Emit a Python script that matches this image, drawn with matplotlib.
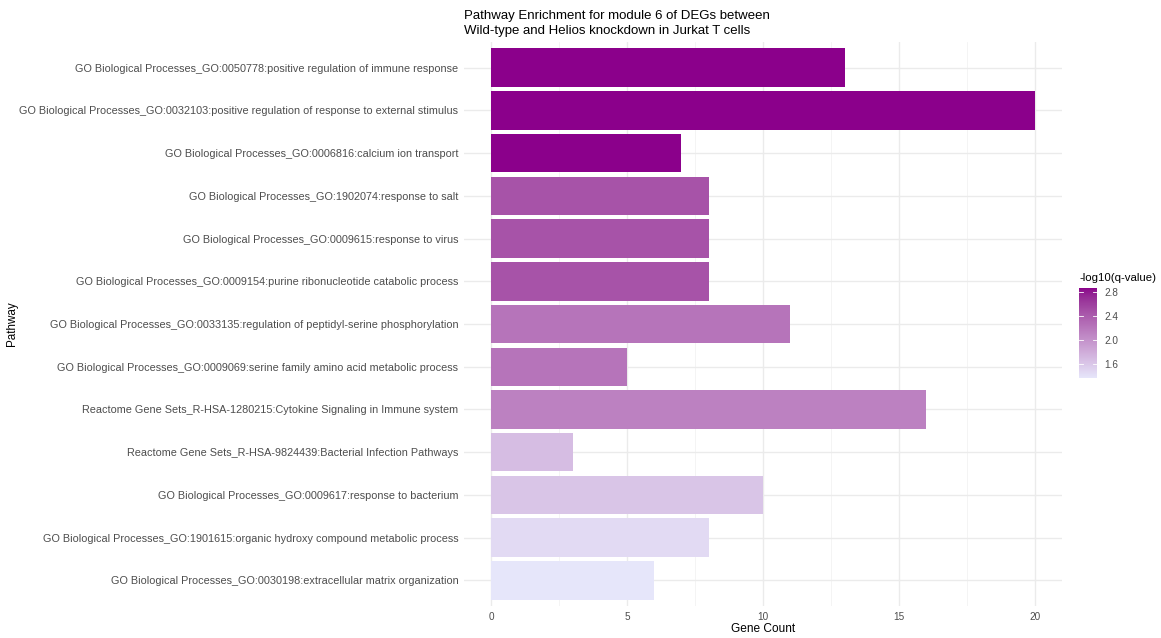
import numpy as np
import matplotlib
matplotlib.use("Agg")
import matplotlib.pyplot as plt
from matplotlib.colors import ListedColormap, Normalize, to_rgb

plt.rcParams["font.family"] = ["Liberation Sans", "DejaVu Sans"]

# pathways listed top to bottom as they appear in the chart
pathways = [
    "GO Biological Processes_GO:0050778:positive regulation of immune response",
    "GO Biological Processes_GO:0032103:positive regulation of response to external stimulus",
    "GO Biological Processes_GO:0006816:calcium ion transport",
    "GO Biological Processes_GO:1902074:response to salt",
    "GO Biological Processes_GO:0009615:response to virus",
    "GO Biological Processes_GO:0009154:purine ribonucleotide catabolic process",
    "GO Biological Processes_GO:0033135:regulation of peptidyl-serine phosphorylation",
    "GO Biological Processes_GO:0009069:serine family amino acid metabolic process",
    "Reactome Gene Sets_R-HSA-1280215:Cytokine Signaling in Immune system",
    "Reactome Gene Sets_R-HSA-9824439:Bacterial Infection Pathways",
    "GO Biological Processes_GO:0009617:response to bacterium",
    "GO Biological Processes_GO:1901615:organic hydroxy compound metabolic process",
    "GO Biological Processes_GO:0030198:extracellular matrix organization",
]
gene_count = [13, 20, 7, 8, 8, 8, 11, 5, 16, 3, 10, 8, 6]
neg_log_q = [2.87, 2.87, 2.87, 2.47, 2.47, 2.47, 2.22, 2.22, 2.13, 1.68, 1.62, 1.46, 1.37]


# lavender -> darkmagenta ramp, interpolated in CIE Lab
def srgb_to_lab(c):
    c = np.asarray(c, float)
    lin = np.where(c <= 0.04045, c / 12.92, ((c + 0.055) / 1.055) ** 2.4)
    m = np.array([[0.4124, 0.3576, 0.1805],
                  [0.2126, 0.7152, 0.0722],
                  [0.0193, 0.1192, 0.9505]])
    xyz = m @ lin / np.array([0.95047, 1.0, 1.08883])
    f = np.where(xyz > 0.008856, np.cbrt(xyz), 7.787 * xyz + 16 / 116)
    return np.array([116 * f[1] - 16, 500 * (f[0] - f[1]), 200 * (f[1] - f[2])])


def lab_to_srgb(lab):
    L, a, b = lab
    fy = (L + 16) / 116
    fx = fy + a / 500
    fz = fy - b / 200
    f = np.array([fx, fy, fz])
    xyz = np.where(f ** 3 > 0.008856, f ** 3, (f - 16 / 116) / 7.787)
    xyz = xyz * np.array([0.95047, 1.0, 1.08883])
    minv = np.array([[3.2406, -1.5372, -0.4986],
                     [-0.9689, 1.8758, 0.0415],
                     [0.0557, -0.2040, 1.0570]])
    lin = np.clip(minv @ xyz, 0, 1)
    c = np.where(lin <= 0.0031308, 12.92 * lin, 1.055 * lin ** (1 / 2.4) - 0.055)
    return np.clip(c, 0, 1)


lo = srgb_to_lab(to_rgb("#E6E6FA"))
hi = srgb_to_lab(to_rgb("#8B008B"))
ramp = [lab_to_srgb(lo + t * (hi - lo)) for t in np.linspace(0, 1, 256)]
cmap = ListedColormap(ramp)
norm = Normalize(min(neg_log_q), max(neg_log_q))

fig = plt.figure(figsize=(11.61, 6.38), dpi=100)
ax = fig.add_axes([464 / 1161, 1 - 606 / 638, 598 / 1161, 564 / 638])

n = len(pathways)
ypos = np.arange(n)[::-1] + 1
ax.barh(ypos, gene_count, height=0.9, color=cmap(norm(neg_log_q)), zorder=2)

ax.set_xlim(-1, 21)
ax.set_ylim(0.4, n + 0.6)
ax.set_xticks([0, 5, 10, 15, 20])
ax.set_xticks([2.5, 7.5, 12.5, 17.5], minor=True)
ax.set_yticks(ypos)
ax.set_yticklabels(pathways)
ax.grid(which="major", color="#EBEBEB", linewidth=1.0, zorder=0)
ax.grid(which="minor", axis="x", color="#F3F3F3", linewidth=0.6, zorder=0)
for s in ax.spines.values():
    s.set_visible(False)
ax.tick_params(which="both", length=0, labelcolor="#4D4D4D")
ax.tick_params(axis="y", pad=4, labelsize=7.85)
ax.tick_params(axis="x", pad=4, labelsize=7.2)

ax.set_xlabel("Gene Count", fontsize=8.6, labelpad=1)
ax.set_ylabel("Pathway", fontsize=8.4)
ax.yaxis.set_label_coords(-0.745, 0.5)
ax.set_title("Pathway Enrichment for module 6 of DEGs between\nWild-type and Helios knockdown in Jurkat T cells",
             fontsize=9.5, loc="left", x=0.0, pad=6, linespacing=1.3)

# colour bar legend
cax = fig.add_axes([1079 / 1161, 1 - 378 / 638, 18 / 1161, 90 / 638])
cb = fig.colorbar(plt.cm.ScalarMappable(norm=norm, cmap=cmap), cax=cax)
cb.outline.set_visible(False)
cb.set_ticks([1.6, 2.0, 2.4, 2.8])
cb.ax.tick_params(length=0, labelsize=7.2, labelcolor="#4D4D4D", pad=5)
for t in [1.6, 2.0, 2.4, 2.8]:
    cax.plot([0, 0.2], [t, t], color="white", lw=0.6)
    cax.plot([0.8, 1], [t, t], color="white", lw=0.6)
cax.text(0, 1.06, "-log10(q-value)", transform=cax.transAxes, fontsize=8.2, va="bottom", ha="left")

fig.savefig("out.png", dpi=100)
